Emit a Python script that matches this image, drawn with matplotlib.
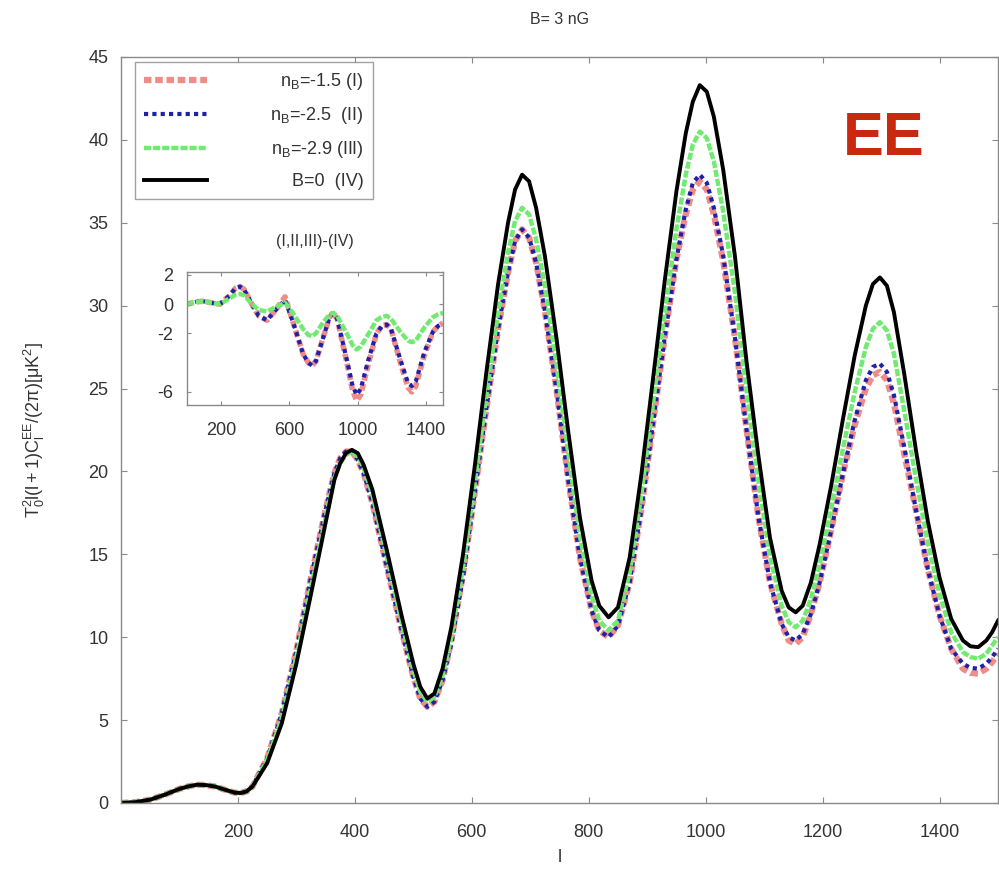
import matplotlib
matplotlib.use("Agg")
import matplotlib.pyplot as plt

plt.rcParams["font.family"] = ["Liberation Sans", "DejaVu Sans"]
plt.rcParams["mathtext.fontset"] = "custom"
plt.rcParams["mathtext.rm"] = "Liberation Sans"
plt.rcParams["mathtext.it"] = "Liberation Sans"
plt.rcParams["mathtext.bf"] = "Liberation Sans:bold"
plt.rcParams["axes.unicode_minus"] = False
plt.rcParams["lines.solid_joinstyle"] = "round"
plt.rcParams["lines.dash_joinstyle"] = "round"

# EE power spectra, multipole l
ell = [0, 25, 50, 75, 100, 115, 130, 145, 160, 185,
       195, 205, 215, 225, 250, 275, 300, 325, 350, 365,
       375, 385, 395, 405, 415, 430, 455, 480, 500, 512,
       524, 536, 550, 565, 585, 605, 625, 645, 662, 674,
       686, 698, 710, 725, 745, 765, 785, 805, 818, 834,
       850, 870, 890, 910, 930, 950, 966, 978, 990, 1002,
       1014, 1030, 1050, 1070, 1090, 1110, 1130, 1142, 1154, 1166,
       1180, 1195, 1215, 1235, 1255, 1274, 1286, 1298, 1310, 1322,
       1340, 1360, 1380, 1400, 1420, 1440, 1453, 1466, 1480, 1490,
       1500]

# B=0 (IV)
cl_b0 = [0.0, 0.05, 0.2, 0.5, 0.85, 1.0, 1.1, 1.08, 1.0, 0.72,
         0.62, 0.6, 0.7, 1.0, 2.4, 4.8, 8.4, 12.6, 16.9, 19.5,
         20.5, 21.1, 21.3, 21.1, 20.4, 18.9, 15.2, 11.3, 8.4, 7.0,
         6.3, 6.6, 8.1, 10.6, 15.0, 20.3, 26.0, 31.3, 35.0, 37.0,
         37.9, 37.5, 35.9, 33.0, 28.0, 22.4, 17.2, 13.4, 11.9, 11.2,
         11.8, 14.8, 19.8, 25.6, 31.5, 36.9, 40.4, 42.3, 43.3, 42.9,
         41.4, 38.2, 33.0, 26.6, 21.0, 16.0, 12.8, 11.8, 11.5, 11.9,
         13.3, 15.6, 19.2, 23.2, 27.0, 30.0, 31.3, 31.7, 31.2, 29.6,
         25.8, 21.2, 17.0, 13.6, 11.1, 9.8, 9.45, 9.4, 9.8, 10.3,
         11.0]

# n_B = -2.9 (III)
cl_n29 = [0.0, 0.05, 0.2, 0.5, 0.85, 1.0, 1.1, 1.08, 1.0, 0.72,
          0.62, 0.6, 0.7, 1.0, 2.6, 5.1, 8.8, 13.0, 17.2, 19.6,
          20.5, 21.0, 21.2, 20.9, 20.2, 18.6, 14.8, 10.9, 8.0, 6.7,
          6.1, 6.4, 7.7, 10.0, 14.2, 19.3, 24.6, 29.6, 33.2, 35.1,
          35.9, 35.5, 34.0, 31.2, 26.4, 21.1, 16.1, 12.5, 11.0, 10.4,
          11.0, 13.9, 18.6, 24.1, 29.6, 34.6, 37.9, 39.7, 40.5, 40.1,
          38.7, 35.7, 30.8, 24.9, 19.5, 14.9, 11.9, 10.9, 10.6, 11.0,
          12.3, 14.4, 17.8, 21.4, 24.8, 27.5, 28.6, 29.0, 28.5, 27.1,
          23.6, 19.5, 15.7, 12.6, 10.3, 9.1, 8.8, 8.7, 9.0, 9.5,
          10.0]

# n_B = -2.5 (II)
cl_n25 = [0.0, 0.05, 0.2, 0.5, 0.85, 1.0, 1.1, 1.08, 1.0, 0.72,
          0.62, 0.6, 0.7, 1.0, 2.7, 5.4, 9.2, 13.6, 17.7, 19.9,
          20.8, 21.2, 21.2, 20.7, 19.9, 18.1, 14.2, 10.4, 7.6, 6.3,
          5.8, 6.1, 7.4, 9.6, 13.6, 18.7, 23.8, 28.6, 32.0, 33.9,
          34.6, 34.1, 32.6, 29.7, 24.9, 19.5, 14.8, 11.6, 10.4, 10.0,
          10.7, 13.3, 17.7, 22.9, 28.1, 32.8, 35.8, 37.4, 37.9, 37.4,
          35.9, 33.0, 28.1, 22.5, 17.3, 13.3, 10.8, 10.0, 9.8, 10.2,
          11.4, 13.3, 16.5, 19.9, 23.1, 25.5, 26.3, 26.5, 26.0, 24.6,
          21.4, 17.6, 14.1, 11.3, 9.3, 8.4, 8.15, 8.1, 8.4, 8.8,
          9.3]

# n_B = -1.5 (I)
cl_n15 = [0.0, 0.05, 0.2, 0.5, 0.85, 1.0, 1.1, 1.08, 1.0, 0.72,
          0.62, 0.6, 0.7, 1.0, 2.7, 5.4, 9.2, 13.6, 17.7, 19.9,
          20.8, 21.2, 21.2, 20.7, 19.9, 18.1, 14.2, 10.4, 7.6, 6.3,
          5.8, 6.1, 7.4, 9.8, 13.8, 18.7, 23.8, 28.6, 32.0, 33.9,
          34.6, 34.1, 32.6, 29.7, 24.9, 19.5, 14.8, 11.6, 10.4, 10.0,
          10.7, 13.3, 17.7, 22.9, 28.1, 32.8, 35.5, 37.0, 37.5, 37.0,
          35.5, 32.7, 28.1, 22.5, 17.3, 13.3, 10.8, 9.8, 9.6, 10.0,
          11.4, 13.3, 16.5, 19.9, 22.8, 25.0, 25.8, 26.0, 25.5, 24.1,
          21.0, 17.6, 14.1, 11.3, 9.3, 8.1, 7.85, 7.8, 8.1, 8.5,
          9.0]

# differences to B=0 for the inset
ell_diff = [0, 50, 94, 140, 193, 250, 285, 310, 335, 380,
            420, 468, 520, 574, 620, 680, 710, 732, 755, 800,
            835, 856, 880, 940, 970, 994, 1018, 1060, 1110, 1145,
            1170, 1195, 1250, 1295, 1317, 1340, 1390, 1440, 1470, 1500]
diff_n15 = [0.0, 0.15, 0.2, 0.1, 0.0, 0.6, 1.1, 1.2, 1.0, 0.0,
            -0.8, -1.1, -0.4, 0.5, -1.2, -3.4, -4.0, -4.2, -3.9, -2.2,
            -0.9, -0.6, -1.0, -4.2, -5.9, -6.6, -6.2, -4.2, -2.0, -1.45,
            -1.4, -1.7, -4.0, -5.7, -6.0, -5.6, -3.5, -1.9, -1.5, -1.3]
diff_n25 = [0.0, 0.15, 0.2, 0.1, 0.0, 0.6, 1.1, 1.2, 1.0, 0.0,
            -0.8, -1.1, -0.4, 0.3, -1.2, -3.4, -4.0, -4.2, -3.9, -2.2,
            -0.9, -0.6, -1.0, -4.0, -5.6, -6.2, -5.8, -3.9, -2.0, -1.45,
            -1.4, -1.7, -3.8, -5.4, -5.6, -5.3, -3.3, -1.9, -1.5, -1.3]
diff_n29 = [0.0, 0.15, 0.2, 0.1, 0.0, 0.4, 0.65, 0.7, 0.6, 0.0,
            -0.4, -0.5, -0.2, 0.1, -0.6, -1.7, -2.1, -2.2, -2.0, -1.2,
            -0.7, -0.6, -0.8, -2.1, -2.8, -3.1, -2.9, -2.1, -1.1, -0.85,
            -0.8, -1.0, -1.9, -2.5, -2.6, -2.5, -1.6, -0.9, -0.7, -0.6]

labels = [r"n$_\mathregular{B}$=-1.5 (I)", r"n$_\mathregular{B}$=-2.5  (II)",
          r"n$_\mathregular{B}$=-2.9 (III)", "B=0  (IV)"]

red = "#f08c88"
blue = "#1f22a8"
green = "#72ea72"
gray = "#8a8a8a"
txt = "#333333"

red_ls = (0, (1.2, 0.6))
blue_ls = (0, (1, 1))
green_ls = (0, (1.6, 0.45))


def style_axes(ax, size, pad_x, pad_y, length):
    for s in ax.spines.values():
        s.set_color(gray)
        s.set_linewidth(1.0)
    ax.tick_params(direction="in", top=True, right=True, length=length, color=gray,
                   labelsize=size, labelcolor=txt)
    ax.tick_params(axis="x", pad=pad_x)
    ax.tick_params(axis="y", pad=pad_y)


fig = plt.figure(figsize=(9.99, 8.71), dpi=100)
ax = fig.add_axes([0.1211, 0.0781, 0.8779, 0.8565])

ax.plot(ell, cl_n15, color=red, lw=4.5, ls=red_ls, label=labels[0])
ax.plot(ell, cl_n25, color=blue, lw=3, ls=blue_ls, label=labels[1])
ax.plot(ell, cl_n29, color=green, lw=3.2, ls=green_ls, label=labels[2])
ax.plot(ell, cl_b0, color="black", lw=2.8, label=labels[3])

ax.set_xlim(0, 1500)
ax.set_ylim(0, 45)
ax.set_xticks(range(200, 1500, 200))
ax.set_yticks(range(0, 46, 5))
style_axes(ax, 13, 15, 9, 4)
ax.set_xlabel("l", fontsize=13, color=txt, labelpad=6)
ax.set_ylabel(r"$\mathregular{T_0^2l(l+1)C_l^{EE}/(2\pi)[\mu K^2]}$", fontsize=13,
              color=txt, labelpad=30)
ax.set_title("B= 3 nG", fontsize=11.5, color=txt, pad=24)

ax.text(1304, 40.0, "EE", color="#c8290f", fontsize=44, fontweight="bold",
        ha="center", va="center")

leg = ax.legend(loc="upper left", bbox_to_anchor=(0.016, 0.993), borderaxespad=0,
                fontsize=13, handlelength=3.5, labelspacing=0.72, handletextpad=3.5,
                borderpad=0.5, fancybox=False, frameon=True)
leg.get_frame().set_edgecolor(gray)
leg.get_frame().set_linewidth(1.0)
for t in leg.get_texts():
    t.set_color(txt)

# inset with the differences
axin = fig.add_axes([0.1872, 0.535, 0.2563, 0.1527])
axin.plot(ell_diff, diff_n15, color=red, lw=4, ls=red_ls)
axin.plot(ell_diff, diff_n25, color=blue, lw=3, ls=blue_ls)
axin.plot(ell_diff, diff_n29, color=green, lw=3.2, ls=green_ls)
axin.set_xlim(0, 1500)
axin.set_ylim(-6.9, 2.2)
axin.set_xticks([200, 600, 1000, 1400])
axin.set_yticks([-6, -2, 0, 2])
style_axes(axin, 13, 12, 10, 3)
axin.set_title("(I,II,III)-(IV)", fontsize=11.5, color=txt, pad=19)

# right-align the legend labels like gnuplot does
fig.canvas.draw()
renderer = fig.canvas.get_renderer()
widths = [t.get_window_extent(renderer).width for t in leg.get_texts()]
for t, w in zip(leg.get_texts(), widths):
    t.set_x(max(widths) - w)

fig.savefig("out.png", dpi=100)
